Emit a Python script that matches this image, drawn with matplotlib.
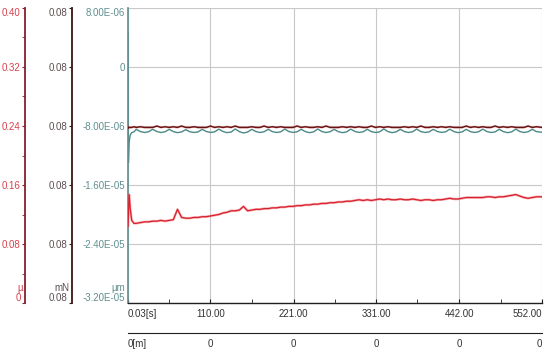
import matplotlib
matplotlib.use("Agg")
import matplotlib.pyplot as plt
from matplotlib.ticker import FixedLocator, MultipleLocator

plt.rcParams['font.family'] = ['Liberation Sans', 'DejaVu Sans']

# sample times [s]
t = [0.03, 0.6, 1.5, 3.0, 5.0, 8.0, 11.0, 16.5, 22.0, 27.5,
     33, 38.5, 44, 49.5, 55, 60.5, 66, 71.5, 77, 82.5,
     88, 93.5, 99, 104.5, 110, 115.5, 121, 126.5, 132, 137.5,
     143, 148.5, 154, 159.5, 165, 170.5, 176, 181.5, 187, 192.5,
     198, 203.5, 209, 214.5, 220, 225.5, 231, 236.5, 242, 247.5,
     253, 258.5, 264, 269.5, 275, 280.5, 286, 291.5, 297, 302.5,
     308, 313.5, 319, 324.5, 330, 335.5, 341, 346.5, 352, 357.5,
     363, 368.5, 374, 379.5, 385, 390.5, 396, 401.5, 407, 412.5,
     418, 423.5, 429, 434.5, 440, 445.5, 451, 456.5, 462, 467.5,
     473, 478.5, 484, 489.5, 495, 500.5, 506, 511.5, 517, 522.5,
     528, 533.5, 539, 544.5, 552]

# friction coefficient [µ]
mu = [0.104, 0.120, 0.147, 0.128, 0.112, 0.108, 0.108, 0.109, 0.110, 0.110,
      0.111, 0.111, 0.112, 0.111, 0.112, 0.113, 0.127, 0.116, 0.115, 0.115,
      0.116, 0.116, 0.117, 0.117, 0.118, 0.119, 0.120, 0.122, 0.123, 0.125,
      0.125, 0.126, 0.131, 0.125, 0.126, 0.127, 0.127, 0.128, 0.128, 0.129,
      0.129, 0.130, 0.130, 0.131, 0.131, 0.132, 0.132, 0.133, 0.133, 0.134,
      0.134, 0.135, 0.135, 0.136, 0.136, 0.137, 0.137, 0.138, 0.138, 0.139,
      0.140, 0.139, 0.140, 0.139, 0.140, 0.141, 0.140, 0.141, 0.140, 0.140,
      0.141, 0.140, 0.140, 0.141, 0.140, 0.139, 0.140, 0.140, 0.139, 0.140,
      0.140, 0.141, 0.142, 0.141, 0.141, 0.142, 0.143, 0.143, 0.143, 0.143,
      0.143, 0.144, 0.144, 0.143, 0.144, 0.144, 0.145, 0.146, 0.147, 0.145,
      0.143, 0.142, 0.143, 0.144, 0.144]

# load [mN]
load = [0.08039, 0.08037, 0.08038, 0.08038, 0.08038, 0.08039, 0.08038, 0.08039, 0.08038, 0.08038,
        0.08038, 0.08040, 0.08038, 0.08039, 0.08038, 0.08039, 0.08038, 0.08040, 0.08038, 0.08038,
        0.08039, 0.08038, 0.08038, 0.08038, 0.08040, 0.08038, 0.08039, 0.08038, 0.08039, 0.08038,
        0.08040, 0.08038, 0.08038, 0.08038, 0.08039, 0.08038, 0.08038, 0.08040, 0.08038, 0.08039,
        0.08038, 0.08039, 0.08038, 0.08038, 0.08038, 0.08040, 0.08038, 0.08039, 0.08038, 0.08038,
        0.08039, 0.08038, 0.08040, 0.08038, 0.08038, 0.08038, 0.08039, 0.08038, 0.08039, 0.08038,
        0.08039, 0.08038, 0.08038, 0.08040, 0.08038, 0.08039, 0.08038, 0.08039, 0.08038, 0.08038,
        0.08038, 0.08039, 0.08038, 0.08039, 0.08038, 0.08040, 0.08038, 0.08038, 0.08039, 0.08038,
        0.08039, 0.08038, 0.08039, 0.08038, 0.08038, 0.08038, 0.08040, 0.08038, 0.08039, 0.08038,
        0.08039, 0.08038, 0.08038, 0.08040, 0.08038, 0.08039, 0.08038, 0.08039, 0.08038, 0.08038,
        0.08038, 0.08040, 0.08038, 0.08039, 0.08038]

# depth [x1E-06]
depth = [4.5, -13.0, -10.2, -9.2, -8.9, -8.8, -8.45, -8.75, -8.88, -8.78,
         -8.45, -8.75, -8.88, -8.78, -8.45, -8.76, -8.90, -8.80, -8.50, -8.78,
         -8.88, -8.80, -8.45, -8.75, -8.87, -8.80, -8.42, -8.74, -8.90, -8.82,
         -8.40, -8.76, -8.95, -8.82, -8.45, -8.75, -8.88, -8.78, -8.45, -8.76,
         -8.88, -8.80, -8.42, -8.75, -8.87, -8.79, -8.45, -8.76, -8.90, -8.80,
         -8.40, -8.75, -8.88, -8.78, -8.45, -8.77, -8.90, -8.80, -8.42, -8.74,
         -8.87, -8.79, -8.45, -8.76, -8.88, -8.80, -8.40, -8.75, -8.90, -8.80,
         -8.45, -8.75, -8.88, -8.78, -8.42, -8.76, -8.88, -8.80, -8.45, -8.75,
         -8.87, -8.79, -8.43, -8.75, -8.90, -8.80, -8.45, -8.76, -8.88, -8.78,
         -8.42, -8.75, -8.88, -8.80, -8.45, -8.76, -8.90, -8.80, -8.42, -8.75,
         -8.88, -8.78, -8.45, -8.76, -8.85]

x_ticks = [0.03, 110, 221, 331, 442, 552]
x_labels = ['0.03[s]', '110.00', '221.00', '331.00', '442.00', '552.00']
dist_labels = ['0[m]', '0', '0', '0', '0', '0']

mu_ticks = [0, 0.08, 0.16, 0.24, 0.32, 0.40]
mu_labels = ['0', '0.08', '0.16', '0.24', '0.32', '0.40']
load_ticks = [0.0780, 0.0788, 0.0796, 0.0804, 0.0812, 0.0820]
load_labels = ['0.08'] * 6
depth_ticks = [-32, -24, -16, -8, 0, 8]
depth_labels = ['-3.20E-05', '-2.40E-05', '-1.60E-05', '-8.00E-06', '0', '8.00E-06']

c_mu = '#d8404c'
c_mu_sp = '#86202c'
c_load = '#5a5050'
c_load_sp = '#3a1414'
c_depth = '#5f8f8f'
fs = 7

fig = plt.figure(figsize=(5.5, 3.5), dpi=100)
ax = fig.add_axes([128/550, 1-303/350, 414/550, 295/350])
ax_d = ax.twiny()
ax_mu = ax.twinx()
ax_ld = ax.twinx()


def end_align(labels, first, last, vertical=False):
    if vertical:
        labels[0].set_va(first)
        labels[-1].set_va(last)
    else:
        labels[0].set_ha(first)
        labels[-1].set_ha(last)


# main axis: depth
ax.plot(t, depth, color='#4d8987', lw=1.0)
ax.set_xlim(0.03, 552)
ax.set_ylim(-32, 8)
ax.set_yticks(depth_ticks)
ax.set_yticklabels(depth_labels)
ax.set_xticks(x_ticks)
ax.set_xticklabels(x_labels)
ax.xaxis.set_minor_locator(FixedLocator([55, 165, 276, 386, 497]))
ax.grid(True, color='#c8c8c8', lw=0.8)
ax.set_axisbelow(True)
for s in ['top', 'right']:
    ax.spines[s].set_visible(False)
ax.spines['left'].set_color(c_depth)
ax.spines['left'].set_linewidth(1.2)
ax.spines['bottom'].set_color('#202020')
ax.spines['bottom'].set_linewidth(1.0)
ax.tick_params(axis='y', colors=c_depth, labelsize=fs, length=0, pad=2)
ax.tick_params(axis='x', which='both', colors='#202020', labelsize=fs, direction='in', length=3, pad=4)
ax.tick_params(axis='x', labelcolor='#333333')
end_align(ax.get_yticklabels(), 'bottom', 'top', vertical=True)
end_align(ax.get_xticklabels(), 'left', 'right')

# second bottom axis: distance
ax_d.set_xlim(0.03, 552)
ax_d.xaxis.set_ticks_position('bottom')
ax_d.set_xticks(x_ticks)
ax_d.set_xticklabels(dist_labels)
for s in ['top', 'left', 'right']:
    ax_d.spines[s].set_visible(False)
ax_d.spines['bottom'].set_position(('axes', -30/295))
ax_d.spines['bottom'].set_color('#202020')
ax_d.tick_params(axis='x', labelsize=fs, length=0, pad=4, labelcolor='#333333')
end_align(ax_d.get_xticklabels(), 'left', 'right')

# friction coefficient axis
ax_mu.plot(t, mu, color='#f06068', lw=1.8, alpha=0.5)
ax_mu.plot(t, mu, color='#d8202c', lw=0.9)
ax_mu.set_ylim(0, 0.40)
ax_mu.set_yticks(mu_ticks)
ax_mu.set_yticklabels(mu_labels)
ax_mu.yaxis.set_minor_locator(MultipleLocator(0.04))

# load axis
ax_ld.plot(t, load, color='#e05058', lw=1.6, alpha=0.35)
ax_ld.plot(t, load, color='#6a1212', lw=1.0)
ax_ld.set_ylim(0.0780, 0.0820)
ax_ld.set_yticks(load_ticks)
ax_ld.set_yticklabels(load_labels)

for a, pos, sc, lc in [(ax_mu, -103/414, c_mu_sp, c_mu), (ax_ld, -56/414, c_load_sp, c_load)]:
    a.yaxis.set_ticks_position('left')
    a.spines['left'].set_visible(True)
    a.spines['left'].set_position(('axes', pos))
    a.spines['left'].set_color(sc)
    a.spines['left'].set_linewidth(1.3)
    for s in ['right', 'top', 'bottom']:
        a.spines[s].set_visible(False)
    a.tick_params(axis='y', which='major', colors=sc, labelcolor=lc, labelsize=fs, length=2, pad=1)
    a.tick_params(axis='y', which='minor', colors=sc, length=2)
    end_align(a.get_yticklabels(), 'bottom', 'top', vertical=True)

# unit labels
ax.text(-103/414 - 0.006, 0.035, 'µ', transform=ax.transAxes, ha='right', va='bottom', fontsize=fs, color=c_mu)
ax.text(-56/414 - 0.006, 0.035, 'mN', transform=ax.transAxes, ha='right', va='bottom', fontsize=fs, color=c_load)
ax.text(-0.006, 0.035, 'µm', transform=ax.transAxes, ha='right', va='bottom', fontsize=fs, color=c_depth)

fig.savefig('out.png', dpi=100)
